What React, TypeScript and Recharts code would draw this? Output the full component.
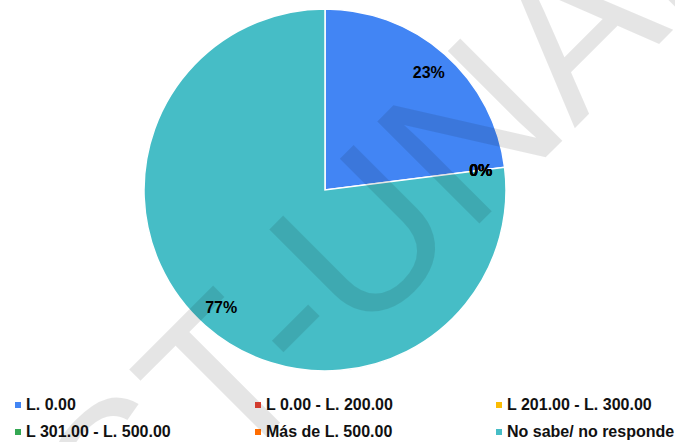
import { PieChart, Pie, Cell, Legend } from "recharts";

const categories = [
  "L. 0.00",
  "L 0.00 - L. 200.00",
  "L 201.00 - L. 300.00",
  "L 301.00 - L. 500.00",
  "Más de L. 500.00",
  "No sabe/ no responde",
];
const values = [23, 0, 0, 0, 0, 77];

const COLORS = ["#4285F4", "#EA4335", "#FBBC04", "#34A853", "#FF6D01", "#46BDC6"];
const FONT = "'Liberation Sans', Arial, sans-serif";

const data = categories.map((name, i) => ({ name, value: values[i] }));

const RAD = Math.PI / 180;

function renderLabel(props: any) {
  const { cx, cy, midAngle, percent } = props;
  const r = 157;
  const x = cx + r * Math.cos(-midAngle * RAD);
  const y = cy + r * Math.sin(-midAngle * RAD);
  return (
    <text x={x} y={y} textAnchor="middle" dominantBaseline="central"
      fill="#000" fontSize={16} fontWeight="bold" fontFamily={FONT}>
      {`${Math.round((percent ?? 0) * 100)}%`}
    </text>
  );
}

const COL_X = [15, 255, 496];

function LegendBox() {
  return (
    <div style={{ position: "relative", width: 675, height: 46, fontFamily: FONT }}>
      {categories.map((name, i) => {
        const left = COL_X[i % 3];
        const top = Math.floor(i / 3) * 26.5;
        return (
          <div key={name} style={{ position: "absolute", left, top, height: 18, display: "flex", alignItems: "center", whiteSpace: "nowrap" }}>
            <span style={{ width: 6, height: 6, background: COLORS[i], display: "inline-block", marginRight: 5 }} />
            <span style={{ fontSize: 16, fontWeight: "bold", color: "#111" }}>{name}</span>
          </div>
        );
      })}
    </div>
  );
}

// diagonal watermark across the whole picture
const WM = "ST-UNAH";

export default function App() {
  return (
    <div style={{ position: "absolute", left: 0, top: 0, width: 675, height: 442, background: "#fff", overflow: "hidden" }}>
      <PieChart width={675} height={442} margin={{ top: 0, right: 0, bottom: 0, left: 0 }}>
        <Pie
          data={data}
          dataKey="value"
          nameKey="name"
          cx={325}
          cy={190}
          outerRadius={181}
          startAngle={90}
          endAngle={-270}
          stroke="#fff"
          strokeWidth={1.5}
          label={renderLabel}
          labelLine={false}
          isAnimationActive={false}
        >
          {data.map((_, i) => (
            <Cell key={i} fill={COLORS[i]} />
          ))}
        </Pie>
        <Legend
          verticalAlign="bottom"
          wrapperStyle={{ left: 0, top: 396, bottom: "auto", width: 675 }}
          content={() => <LegendBox />}
        />
      </PieChart>
      <svg width={675} height={442} style={{ position: "absolute", left: 0, top: 0, pointerEvents: "none" }}>
        <text
          transform="translate(129 574) rotate(-45)"
          x={0}
          y={0}
          fontSize={210}
          fontFamily={FONT}
          fill="#000"
          fillOpacity={0.1}
        >
          {WM}
        </text>
      </svg>
    </div>
  );
}
